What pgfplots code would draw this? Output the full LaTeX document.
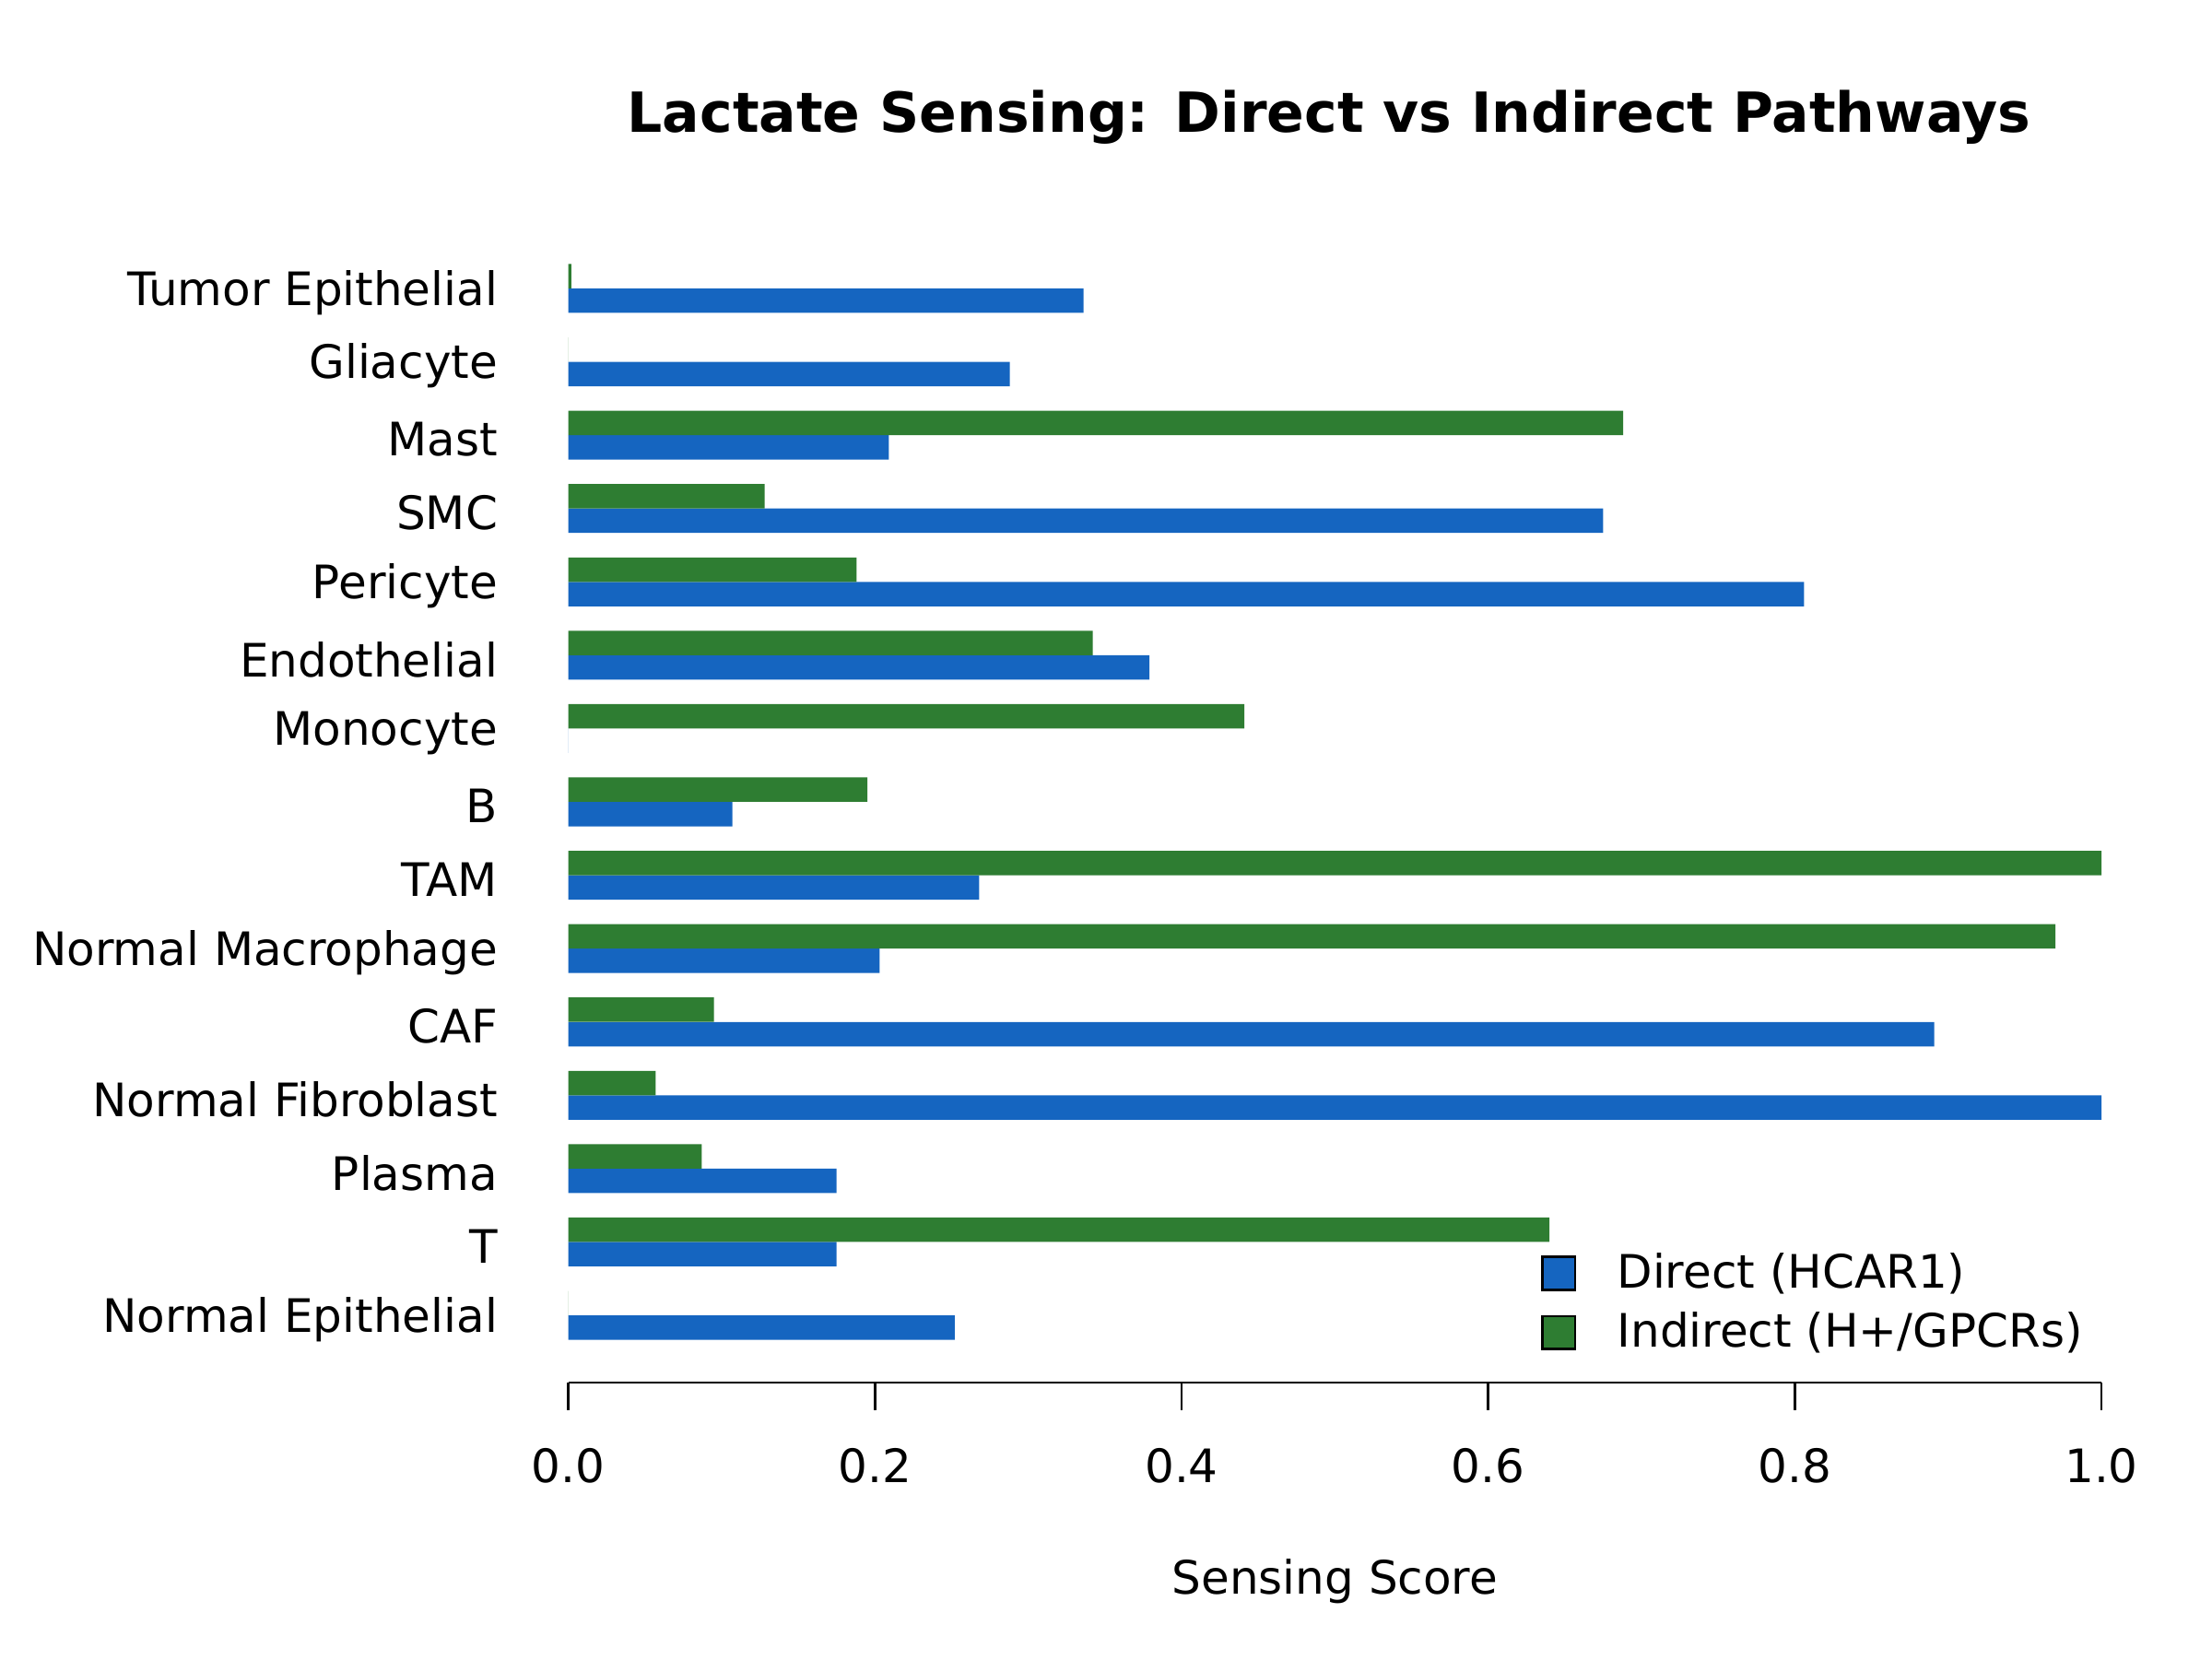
\documentclass[border=0pt]{standalone}
\usepackage{fontspec}
\setmainfont{DejaVu Sans}
\usepackage{pgfplots}
\pgfplotsset{compat=1.18}

\definecolor{direct}{HTML}{1565C0}
\definecolor{indirect}{HTML}{2E7D32}

% rows from bottom (0) to top (14)
\pgfplotstableread{
y  direct  indirect
0  0.252   0.000
1  0.175   0.640
2  0.175   0.087
3  1.000   0.057
4  0.891   0.095
5  0.203   0.970
6  0.268   1.000
7  0.107   0.195
8  0.000   0.441
9  0.379   0.342
10 0.806   0.188
11 0.675   0.128
12 0.209   0.688
13 0.288   0.000
14 0.336   0.002
}\sensing

\begin{document}
\begin{tikzpicture}
\path (0,0) rectangle (576pt,432pt);
\begin{axis}[
  at={(148pt,72pt)}, anchor=south west,
  scale only axis,
  width=399.2pt, height=302.4pt,
  xmin=0, xmax=1,
  ymin=-0.917, ymax=14.917,
  xbar, bar width=0.333,
  axis x line*=bottom,
  axis y line*=left,
  y axis line style={draw=none},
  x axis line style={line width=0.65pt, -},
  xtick={0,0.2,0.4,0.6,0.8,1.0},
  xticklabels={0.0,0.2,0.4,0.6,0.8,1.0},
  xtick align=outside,
  major tick length=7.2pt,
  x tick style={line width=0.65pt, black},
  ytick={0,...,14},
  yticklabels={Normal Epithelial,T,Plasma,Normal Fibroblast,CAF,Normal Macrophage,TAM,B,Monocyte,Endothelial,Pericyte,SMC,Mast,Gliacyte,Tumor Epithelial},
  y tick style={draw=none},
  tick label style={font=\fontsize{12}{14}\selectfont},
  x tick label style={anchor=center, yshift=-14.4pt},
  y tick label style={anchor=east, inner sep=0pt, xshift=-11pt, yshift=-1.1pt},
  xlabel={Sensing Score},
  xlabel style={at={(axis description cs:0.5,0)}, anchor=center, yshift=-51.7pt, font=\fontsize{12}{14}\selectfont},
  title={Lactate Sensing: Direct vs Indirect Pathways},
  title style={at={(axis description cs:0.5,1)}, anchor=center, yshift=21.1pt, xshift=-1.5pt, font=\fontsize{14.4}{17}\selectfont\bfseries},
  legend image code/.code={\draw[#1, draw=black, line width=0.6pt] (0pt,-4.3pt) rectangle (8.6pt,4.3pt);},
  legend style={draw=none, fill=none, at={(axis description cs:0.634,0.0183)}, anchor=south west,
    font=\fontsize{12}{14}\selectfont, row sep=0.8pt, inner sep=0pt,
    /tikz/every odd column/.append style={column sep=8.6pt}},
  legend cell align=left,
]
\addplot[fill=direct, draw=none, bar shift=-0.1667] table[x=direct, y=y] {\sensing};
\addlegendentry{Direct (HCAR1)}
\addplot[fill=indirect, draw=none, bar shift=0.1667] table[x=indirect, y=y] {\sensing};
\addlegendentry{Indirect (H+/GPCRs)}
\end{axis}
\end{tikzpicture}
\end{document}
